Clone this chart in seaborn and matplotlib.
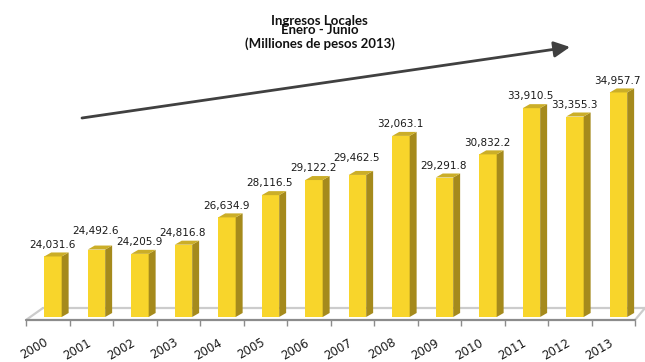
import matplotlib
matplotlib.use('Agg')
import matplotlib.pyplot as plt
import matplotlib.transforms as mtransforms
import seaborn as sns
import pandas as pd
from matplotlib.patches import Polygon

years = ['2000', '2001', '2002', '2003', '2004', '2005', '2006',
         '2007', '2008', '2009', '2010', '2011', '2012', '2013']
values = [24031.6, 24492.6, 24205.9, 24816.8, 26634.9, 28116.5, 29122.2,
          29462.5, 32063.1, 29291.8, 30832.2, 33910.5, 33355.3, 34957.7]
value_labels = ['24,031.6', '24,492.6', '24,205.9', '24,816.8', '26,634.9',
                '28,116.5', '29,122.2', '29,462.5', '32,063.1', '29,291.8',
                '30,832.2', '33,910.5', '33,355.3', '34,957.7']
title_lines = ['Ingresos Locales', 'Enero - Junio', '(Milliones de pesos 2013)']

FRONT = '#F8D52B'
SIDE = '#A58A1C'
TOP = '#CBAE28'

sns.set_style('white')
plt.rcParams['font.family'] = ['DejaVu Sans']

W, H = 645, 362
fig = plt.figure(figsize=(W / 100, H / 100), dpi=100)
ax = fig.add_axes([26 / W, 42 / H, 609 / W, 243.2 / H])

df = pd.DataFrame({'year': years, 'value': values})
sns.barplot(data=df, x='year', y='value', color=FRONT, saturation=1,
            width=0.4, ax=ax, zorder=3, edgecolor='none')

ymin, ymax = 19800, 36000
ax.set_xlim(-0.5, 13.5)
ax.set_ylim(ymin, ymax)

# floor
fb, bb = ymin, 20600
ax.add_patch(Polygon([(-0.5, fb), (13.5, fb), (13.73, bb), (-0.11, bb)],
                     closed=True, facecolor='white', edgecolor='none',
                     zorder=1, clip_on=False))
ax.plot([-0.11, 13.73], [bb, bb], color='#cccccc', lw=1.6, zorder=1.5, clip_on=False)
ax.plot([-0.5, -0.11], [fb, bb], color='#cccccc', lw=1.6, zorder=1.5, clip_on=False)
ax.plot([13.5, 13.73], [fb, bb], color='#cccccc', lw=1.6, zorder=1.5, clip_on=False)
ax.plot([-0.5, 13.5], [fb, fb], color='#8c8c8c', lw=1.6, zorder=1.6, clip_on=False)

# extra lift (points) used by the original to keep neighbouring labels apart
label_lift = {'2001': 5, '2007': 4}

shift = 0.12
dx, dy = 0.16, 267
base = 20000
for p, yr, lbl in zip(ax.patches, years, value_labels):
    x0 = p.get_x() + shift
    w = p.get_width()
    h = p.get_height()
    p.set_x(x0)
    p.set_y(base)
    p.set_height(h - base)
    ax.add_patch(Polygon([(x0 + w, base), (x0 + w, h), (x0 + w + dx, h + dy),
                          (x0 + w + dx, base + dy)], closed=True,
                         facecolor=SIDE, edgecolor='none', zorder=3))
    ax.add_patch(Polygon([(x0, h), (x0 + w, h), (x0 + w + dx, h + dy),
                          (x0 + dx, h + dy)], closed=True,
                         facecolor=TOP, edgecolor='none', zorder=3))
    ax.annotate(lbl, xy=(x0 + w / 2 - 0.02, h + dy),
                xytext=(0, 3.5 + label_lift.get(yr, 0)),
                textcoords='offset points', ha='center', va='baseline',
                fontsize=7.5, color='#1a1a1a')

ax.set_xticks(range(len(years)))
ax.set_xticklabels(years, rotation=30, ha='right', va='top', rotation_mode='anchor')
ax.set_xticks([i - 0.5 for i in range(len(years) + 1)], minor=True)
ax.tick_params(axis='x', which='major', length=0, pad=11.5, labelsize=8.5,
               labelcolor='#1a1a1a')
ax.tick_params(axis='x', which='minor', length=4, width=1, color='#8c8c8c',
               direction='out', bottom=True)
off = mtransforms.ScaledTranslation(-4 / 100, 0, fig.dpi_scale_trans)
for t in ax.get_xticklabels():
    t.set_transform(t.get_transform() + off)
ax.set_yticks([])
ax.set_xlabel('')
ax.set_ylabel('')
for s in ax.spines.values():
    s.set_visible(False)

# title (first two lines are set tightly, as in the original)
fig.text(319.5 / W, 1 - 33.5 / H, title_lines[0] + '\n' + title_lines[1],
         ha='center', va='baseline', multialignment='center', linespacing=0.62,
         fontsize=9.5, fontweight='bold', family=['Lato', 'DejaVu Sans'],
         color='#111111')
fig.text(319.5 / W, 1 - 48 / H, title_lines[2], ha='center', va='baseline',
         fontsize=9.5, fontweight='bold', family=['Lato', 'DejaVu Sans'],
         color='#111111')

# trend arrow
ax.annotate('', xy=(570 / W, 1 - 47 / H), xytext=(82 / W, 1 - 118 / H),
            xycoords='figure fraction', textcoords='figure fraction',
            arrowprops=dict(arrowstyle='-|>', color='#404040', lw=2,
                            mutation_scale=24, shrinkA=0, shrinkB=0),
            annotation_clip=False)

fig.savefig('out.png', dpi=100)
